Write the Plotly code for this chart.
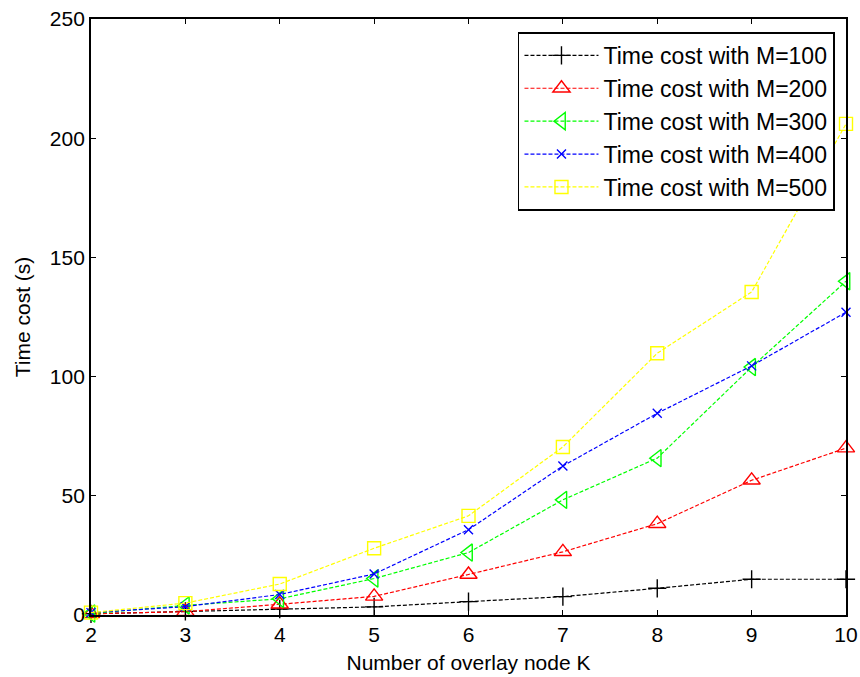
import plotly.graph_objects as go

K = [2, 3, 4, 5, 6, 7, 8, 9, 10]
cost_m100 = [0.5, 1.5, 2.5, 3.4, 5.6, 7.7, 11.2, 15.0, 15.0]
cost_m200 = [0.5, 1.4, 4.5, 7.8, 17.0, 26.5, 38.3, 56.5, 70.0]
cost_m300 = [0.6, 4.0, 6.8, 15.3, 26.2, 48.3, 65.8, 104.0, 140.0]
cost_m400 = [1.0, 3.5, 8.6, 17.2, 35.8, 62.5, 84.6, 104.5, 127.0]
cost_m500 = [1.0, 5.0, 13.0, 28.0, 41.6, 70.5, 109.8, 135.5, 206.0]

series = [
    ("Time cost with M=100", cost_m100, "black", "cross-thin-open", 13),
    ("Time cost with M=200", cost_m200, "red", "triangle-up-open", 15),
    ("Time cost with M=300", cost_m300, "#00ff00", "triangle-left-open", 15),
    ("Time cost with M=400", cost_m400, "blue", "x-thin-open", 9),
    ("Time cost with M=500", cost_m500, "#ffff00", "square-open", 13),
]

fig = go.Figure()
for name, vals, color, sym, size in series:
    fig.add_trace(go.Scatter(
        x=K, y=vals, name=name, mode="lines+markers", legendgroup=name,
        line=dict(color=color, width=1.2, dash="4px,2px"),
        marker=dict(symbol=sym, size=size, color=color,
                    line=dict(color=color, width=1.4)),
        cliponaxis=False,
    ))

font = "Liberation Sans, Arial, sans-serif"
axis_common = dict(
    showgrid=False, zeroline=False, showline=True, linecolor="black",
    linewidth=1.8, mirror="ticks", ticks="inside", ticklen=5,
    tickcolor="black", tickwidth=1.2, automargin=False,
    tickfont=dict(size=21, color="black", family=font),
)

fig.update_layout(
    width=860, height=677,
    margin=dict(l=91, r=14, t=19, b=62),
    paper_bgcolor="white", plot_bgcolor="white",
    font=dict(family=font, color="black"),
    showlegend=True,
    legend=dict(
        x=0.985, y=0.978, xanchor="right", yanchor="top",
        bgcolor="white", bordercolor="black", borderwidth=1.8,
        font=dict(size=23, color="black", family=font),
        tracegroupgap=0, itemwidth=74,
    ),
    xaxis=dict(range=[2, 10], dtick=1, tick0=2,
               title=dict(text="Number of overlay node K",
                          font=dict(size=21, family=font), standoff=10),
               **axis_common),
    yaxis=dict(range=[0, 250], dtick=50,
               title=dict(text="Time cost (s)",
                          font=dict(size=21, family=font), standoff=14),
               **axis_common),
)

fig.write_html("out.html")
